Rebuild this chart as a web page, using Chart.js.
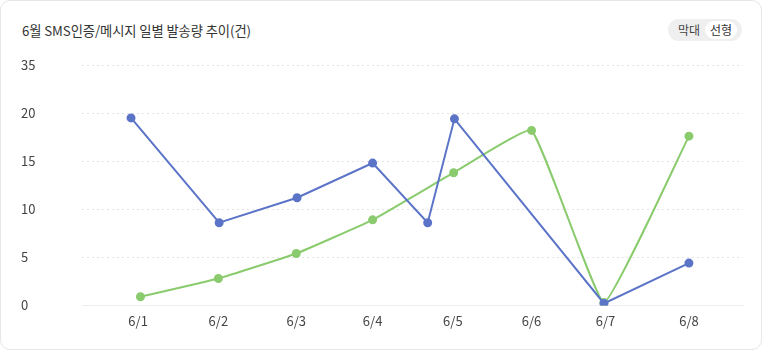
<!DOCTYPE html>
<html><head><meta charset="utf-8">
<script src="https://cdn.jsdelivr.net/npm/chart.js@4/dist/chart.umd.min.js"></script>
<style>
html,body{margin:0;padding:0;background:#fff;}
#card{position:absolute;left:0;top:0;width:762px;height:350px;box-sizing:border-box;border:1px solid #e6e6e6;border-radius:10px;background:#fff;font-family:"Noto Sans CJK KR","Noto Sans",sans-serif;}
#title{position:absolute;left:21px;top:20px;font-size:13.3px;color:#333;line-height:20px;letter-spacing:-0.1px;}
#toggle{position:absolute;left:667px;top:18px;width:74px;height:22px;border-radius:11px;background:#efefef;font-size:12px;color:#444;}
#toggle span{position:absolute;top:0;line-height:22px;}
#t1{left:10px;}
#t2{left:37px;top:2px!important;height:18px;line-height:18px!important;padding:0 5px;background:#fff;border-radius:9px;color:#333;}
#wrap{position:absolute;left:0;top:0;width:762px;height:350px;}
</style></head><body>
<div id="card">
<div id="title">6월 SMS인증/메시지 일별 발송량 추이(건)</div>
<div id="toggle"><span id="t1">막대</span><span id="t2">선형</span></div>
</div>
<div id="wrap"><canvas id="c" width="762" height="350"></canvas></div>
<script>
const categories = ['6/1','6/2','6/3','6/4','6/5','6/6','6/7','6/8'];
const categoryPos = [0, 1.02, 2.01, 2.98, 4.0, 5.0, 5.94, 7];
const yTickLabels = ['0','5','10','15','20','35'];
const blueX = [-0.09, 1.03, 2.02, 2.98, 3.68, 4.02, 5.92, 7.0];
const blueY = [19.5, 8.6, 11.2, 14.8, 8.6, 19.4, 0.2, 4.4];
const greenX = [0.03, 1.02, 2.01, 2.98, 4.01, 5.0, 5.92, 7.0];
const greenY = [0.9, 2.8, 5.4, 8.9, 13.8, 18.2, 0.3, 17.6];

const BLUE = '#5b74c8', GREEN = '#8acb6e';
const pts = (xs, ys) => xs.map((x, i) => ({x, y: ys[i]}));

new Chart(document.getElementById('c'), {
  type: 'line',
  data: {
    datasets: [
      {data: pts(blueX, blueY), borderColor: BLUE, backgroundColor: BLUE, borderWidth: 2, pointRadius: 3.5, pointHoverRadius: 3.5, tension: 0},
      {data: pts(greenX, greenY), borderColor: GREEN, backgroundColor: GREEN, borderWidth: 2, pointRadius: 3.5, pointHoverRadius: 3.5, tension: 0.1}
    ]
  },
  options: {
    responsive: false,
    animation: false,
    layout: {padding: {left: 21, right: 19, top: 65, bottom: 13}},
    plugins: {legend: {display: false}, tooltip: {enabled: false}},
    scales: {
      x: {
        type: 'linear', min: -0.713, max: 7.687,
        afterBuildTicks: s => { s.ticks = categoryPos.map(v => ({value: v})); },
        ticks: {callback: (v, i) => categories[i], color: '#444', font: {size: 13, family: '"Noto Sans CJK KR","Noto Sans",sans-serif'}, padding: 8, maxRotation: 0, autoSkip: false},
        grid: {display: false, drawTicks: false},
        border: {display: true, color: '#eceef2', width: 1}
      },
      y: {
        min: 0, max: 25,
        afterFit: s => { s.width = 61; },
        ticks: {stepSize: 5, callback: (v, i) => yTickLabels[i], color: '#444', font: {size: 13, family: '"Noto Sans CJK KR","Noto Sans",sans-serif'}, align: 'center', crossAlign: 'far', padding: 0},
        grid: {color: c => c.tick.value === 0 ? 'rgba(0,0,0,0)' : '#e4e4e4', drawTicks: false, lineWidth: 1},
        border: {display: false, dash: [2, 3]}
      }
    }
  }
});
</script>
</body></html>
